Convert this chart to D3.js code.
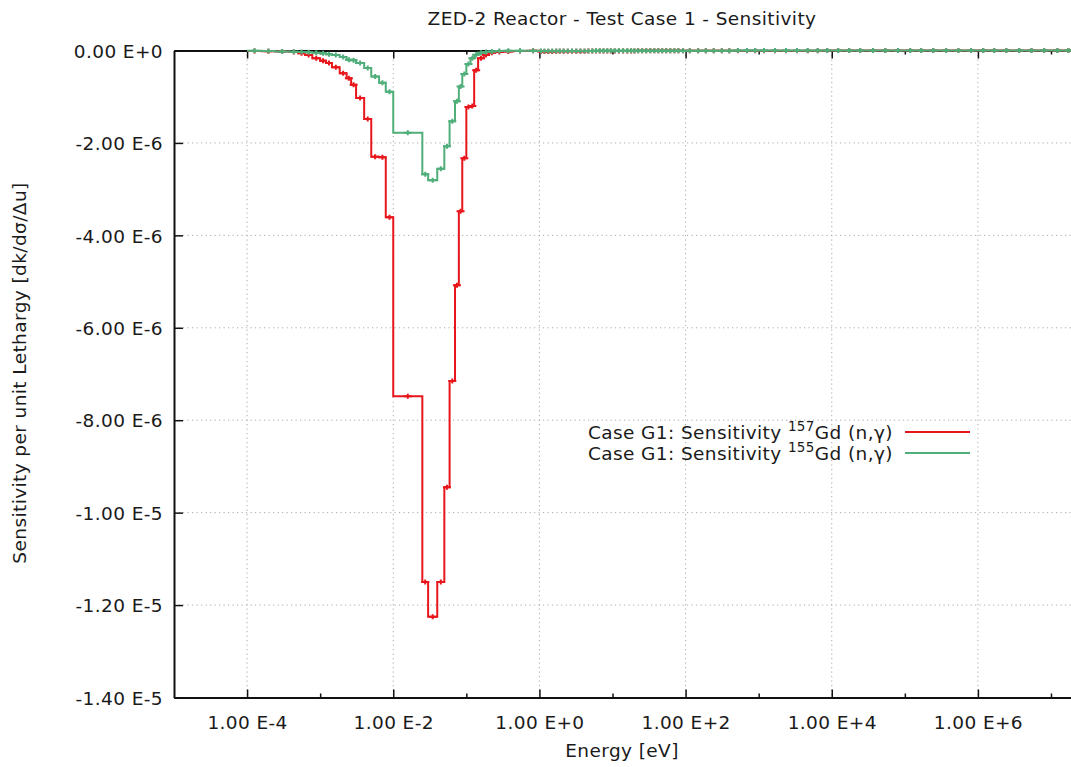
<!DOCTYPE html>
<html>
<head>
<meta charset="utf-8">
<script src="https://cdn.jsdelivr.net/npm/d3@7"></script>
<style>
  body { margin: 0; background: #fff; }
  text { font-family: "DejaVu Sans", sans-serif; fill: #1a1a1a; letter-spacing: 0.4px; }
</style>
</head>
<body>
<svg id="chart" width="1071" height="767"></svg>
<script>
// Group boundaries in eV (thermal groups, then epithermal/fast groups)
const groupEdges = [
  1e-4, 1.6e-4, 2.4e-4, 3.8e-4, 5e-4, 6.2e-4, 7.8e-4, 1e-3, 1.2e-3, 1.45e-3,
  1.85e-3, 2.3e-3, 2.65e-3, 3.1e-3, 4e-3, 5e-3, 6.4e-3, 7.9e-3, 1e-2, 2.5e-2,
  3e-2, 4e-2, 5e-2, 5.9e-2, 7e-2, 7.9e-2, 8.8e-2, 0.1, 0.114, 0.128,
  0.145, 0.173, 0.2, 0.25, 0.32, 0.44, 0.67, 1.0,
  1.1, 1.25, 1.4, 1.6, 1.8, 2, 2.3, 2.6, 3, 3.4,
  3.9, 4.4, 5, 5.6, 6.3, 7.1, 8, 9, 10, 11.5,
  13, 15, 17, 19, 21, 24, 27, 31, 35, 40,
  45, 51, 58, 66, 75, 85, 100, 130, 170, 210,
  280, 350, 450, 600, 800, 1000, 1400, 2000, 2800, 4000,
  5500, 7500, 1e4, 1.5e4, 2e4, 3e4, 4.5e4, 6.5e4, 1e5, 1.4e5,
  2e5, 3e5, 4.5e5, 6.5e5, 1e6, 1.4e6, 2e6, 3e6, 4.5e6, 6.5e6,
  1e7, 1.5e7, 2e7
];

// Sensitivity per unit lethargy, in units of 1e-6, one value per group
const sensGd157 = [
  -0.01, -0.015, -0.02, -0.03, -0.06, -0.10, -0.165, -0.22, -0.27, -0.36,
  -0.49, -0.60, -0.74, -1.03, -1.48, -2.30, -2.31, -3.61, -7.48, -11.50,
  -12.25, -11.50, -9.45, -7.15, -5.08, -3.48, -2.33, -1.22, -1.20, -0.43,
  -0.165, -0.095, -0.05, -0.03, -0.02, -0.012, -0.008,
  -0.02, -0.02, -0.02, -0.02, -0.018, -0.018, -0.016, -0.016, -0.015, -0.015,
  -0.014, -0.014, -0.013, -0.013, -0.012, -0.012, -0.011, -0.011, -0.010, -0.010,
  -0.010, -0.010, -0.009, -0.009, -0.009, -0.008, -0.008, -0.008, -0.008, -0.007,
  -0.007, -0.007, -0.007, -0.006, -0.006, -0.006, -0.006, -0.005, -0.005, -0.005,
  -0.005, -0.004, -0.004, -0.004, -0.004, -0.004, -0.003, -0.003, -0.003, -0.003,
  -0.003, -0.003, -0.002, -0.002, -0.002, -0.002, -0.002, -0.002, -0.002, -0.002,
  -0.002, -0.002, -0.002, -0.002, -0.002, -0.002, -0.002, -0.002, -0.002, -0.002,
  -0.002, -0.002, -0.002
];

const sensGd155 = [
  -0.005, -0.01, -0.02, -0.025, -0.03, -0.04, -0.05, -0.06, -0.08, -0.10,
  -0.14, -0.20, -0.21, -0.27, -0.38, -0.56, -0.70, -0.89, -1.78, -2.68,
  -2.81, -2.56, -2.07, -1.53, -1.10, -0.78, -0.51, -0.29, -0.17, -0.09,
  -0.05, -0.03, -0.02, -0.012, -0.008, -0.005, -0.003,
  -0.012, -0.012, -0.012, -0.011, -0.011, -0.011, -0.010, -0.010, -0.010, -0.010,
  -0.009, -0.009, -0.009, -0.009, -0.008, -0.008, -0.008, -0.008, -0.007, -0.007,
  -0.007, -0.007, -0.006, -0.006, -0.006, -0.006, -0.005, -0.005, -0.005, -0.005,
  -0.005, -0.004, -0.004, -0.004, -0.004, -0.004, -0.003, -0.003, -0.003, -0.003,
  -0.003, -0.003, -0.003, -0.002, -0.002, -0.002, -0.002, -0.002, -0.002, -0.002,
  -0.002, -0.002, -0.002, -0.002, -0.002, -0.002, -0.002, -0.002, -0.002, -0.002,
  -0.002, -0.002, -0.002, -0.002, -0.002, -0.002, -0.002, -0.002, -0.002, -0.002,
  -0.002, -0.002, -0.002
];
const valueUnit = 1e-6;

const xMajorTicks = [1e-4, 1e-2, 1e0, 1e2, 1e4, 1e6];
const xTickLabels = ["1.00 E-4", "1.00 E-2", "1.00 E+0", "1.00 E+2", "1.00 E+4", "1.00 E+6"];
const xMinorTicks = [1e-3, 1e-1, 1e1, 1e3, 1e5, 1e7];
const yTicks = [0, -2e-6, -4e-6, -6e-6, -8e-6, -1e-5, -1.2e-5, -1.4e-5];
const yTickLabels = ["0.00 E+0", "-2.00 E-6", "-4.00 E-6", "-6.00 E-6", "-8.00 E-6",
                     "-1.00 E-5", "-1.20 E-5", "-1.40 E-5"];

const seriesNames = ["157", "155"];
const seriesColors = ["#e8161b", "#4fae7a"];

const svg = d3.select("#chart");
const plotLeft = 174, plotRight = 1073, plotTop = 50.5, plotBottom = 697.5;

const x = d3.scaleLog().domain([1e-5, 2e7]).range([plotLeft, plotRight]);
const y = d3.scaleLinear().domain([-1.4e-5, 0]).range([plotBottom, plotTop]);

svg.append("defs").append("clipPath").attr("id", "plotClip")
  .append("rect").attr("x", plotLeft).attr("y", plotTop - 4)
  .attr("width", plotRight - plotLeft).attr("height", plotBottom - plotTop + 4);

// Dotted grid
const grid = svg.append("g").attr("stroke", "#a8a8a8").attr("stroke-width", 1)
  .attr("stroke-dasharray", "1.2,3.3");
grid.selectAll(".gx").data(xMajorTicks).join("line")
  .attr("x1", d => x(d)).attr("x2", d => x(d)).attr("y1", plotTop).attr("y2", plotBottom);
grid.selectAll(".gy").data(yTicks.slice(1, -1)).join("line")
  .attr("x1", plotLeft).attr("x2", plotRight).attr("y1", d => y(d)).attr("y2", d => y(d));

// Axes with inward ticks, as a frame round the plot
const axisBottom = svg.append("g").attr("transform", `translate(0,${plotBottom})`)
  .call(d3.axisBottom(x).tickValues(xMajorTicks).tickSize(-8).tickSizeOuter(0)
    .tickFormat((d, i) => xTickLabels[i]));
axisBottom.selectAll(".tick text").attr("dy", null).attr("y", 31)
  .style("font-size", "18.5px").style("font-family", "DejaVu Sans, sans-serif")
  .attr("fill", "#1a1a1a");
svg.append("g").attr("transform", `translate(0,${plotBottom})`)
  .call(d3.axisBottom(x).tickValues(xMinorTicks).tickSize(-4).tickSizeOuter(0).tickFormat(""));

svg.append("g").attr("transform", `translate(0,${plotTop})`)
  .call(d3.axisTop(x).tickValues(xMajorTicks).tickSize(-8).tickSizeOuter(0).tickFormat(""));
svg.append("g").attr("transform", `translate(0,${plotTop})`)
  .call(d3.axisTop(x).tickValues(xMinorTicks).tickSize(-4).tickSizeOuter(0).tickFormat(""));

const axisLeft = svg.append("g").attr("transform", `translate(${plotLeft},0)`)
  .call(d3.axisLeft(y).tickValues(yTicks).tickSize(-9).tickSizeOuter(0)
    .tickFormat((d, i) => yTickLabels[i]));
axisLeft.selectAll(".tick text").attr("x", -11).attr("dy", "0.36em")
  .style("font-size", "18.5px").style("font-family", "DejaVu Sans, sans-serif")
  .attr("fill", "#1a1a1a");

svg.selectAll(".domain").attr("stroke", "#111").attr("stroke-width", 2);
svg.selectAll(".tick line").attr("stroke", "#111").attr("stroke-width", 1.5);

// Step curves with error-bar markers at group centres
const plot = svg.append("g").attr("clip-path", "url(#plotClip)");
const series = [sensGd157, sensGd155];
const stepLine = d3.line().x(d => x(d[0])).y(d => y(d[1])).curve(d3.curveStepAfter);

series.forEach((vals, s) => {
  const pts = groupEdges.map((e, i) => [e, vals[Math.min(i, vals.length - 1)] * valueUnit]);
  plot.append("path").attr("d", stepLine(pts)).attr("fill", "none")
    .attr("stroke", seriesColors[s]).attr("stroke-width", 2);
  const centres = vals.map((v, i) => [Math.sqrt(groupEdges[i] * groupEdges[i + 1]), v * valueUnit]);
  plot.append("g").selectAll("path").data(centres).join("path")
    .attr("d", d => {
      const cx = x(d[0]), cy = y(d[1]);
      return `M${cx - 4},${cy}H${cx + 4}M${cx},${cy - 2.5}V${cy + 2.5}`;
    })
    .attr("fill", "none").attr("stroke", seriesColors[s]).attr("stroke-width", 2);
});

// Title and axis labels
svg.append("text").attr("x", 622).attr("y", 25).attr("text-anchor", "middle")
  .style("font-size", "18.5px").text("ZED-2 Reactor - Test Case 1 - Sensitivity");
svg.append("text").attr("x", 622).attr("y", 757).attr("text-anchor", "middle")
  .style("font-size", "18.5px").text("Energy [eV]");
svg.append("text").attr("transform", "translate(26,373) rotate(-90)")
  .attr("text-anchor", "middle").style("font-size", "18.5px")
  .text("Sensitivity per unit Lethargy [dk/dσ/Δu]");

// Legend
const legend = svg.append("g");
seriesNames.forEach((nm, i) => {
  const ly = 432 + i * 21;
  const t = legend.append("text").attr("x", 893).attr("y", ly + 7)
    .attr("text-anchor", "end").style("font-size", "18.5px");
  t.append("tspan").text("Case G1: Sensitivity ");
  t.append("tspan").attr("dy", -8).style("font-size", "13.5px").text(nm);
  t.append("tspan").attr("dy", 8).text("Gd (n,γ)");
  legend.append("line").attr("x1", 905).attr("x2", 970).attr("y1", ly).attr("y2", ly)
    .attr("stroke", seriesColors[i]).attr("stroke-width", 2);
});
</script>
</body>
</html>
